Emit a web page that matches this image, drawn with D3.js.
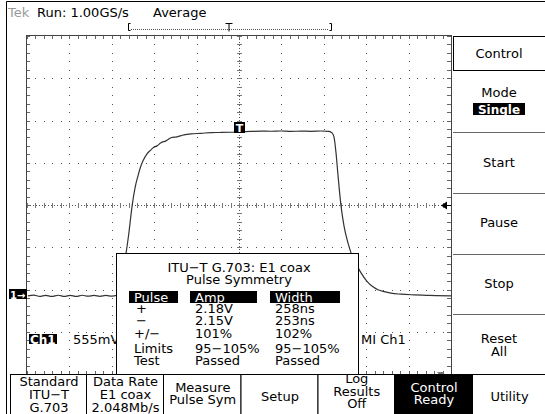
<!DOCTYPE html>
<html>
<head>
<meta charset="utf-8">
<script src="https://cdn.jsdelivr.net/npm/d3@7"></script>
<style>
  body { margin: 0; background: #fff; }
  text { font-family: "DejaVu Sans", sans-serif; fill: #000; }
</style>
</head>
<body>
<div id="chart-area"></div>
<script>
// Waveform: time in ns (trigger at 0), voltage in V (Ch1 ground = 0)
var timeNs = [-249, -242, -235, -228, -221, -213, -206, -199, -192, -185, -178, -171, -164, -157, -150, -144,
  -141.5, -139.1, -136.8, -134.4, -133.2, -129.7, -126.2, -122.6, -119.1, -115.6, -113.2, -108.5, -103.8, -101.4,
  -96.7, -92.0, -86.1, -80.2, -73.1, -64.9, -56.6, -44.8, -33.0, -21.2, -9.4, 0, 14.2, 25.9, 37.7, 49.5, 61.3,
  73.1, 84.9, 96.7, 106.1, 109.7, 112.0, 114.4, 116.7, 120.3, 123.8, 128.5, 132.1, 138.0, 143.9, 150.9, 158.0,
  163.9, 172.2, 179.2, 191.0, 206.4, 220.5, 232.3, 250];
var voltsV = [0, 0.009, -0.007, 0.007, -0.008, 0.008, -0.007, 0.007, -0.008, 0.008, -0.005, 0.005, -0.007, 0.005, -0.004, 0.007,
  0.039, 0.144, 0.315, 0.499, 0.565, 0.841, 1.169, 1.419, 1.576, 1.708, 1.773, 1.866, 1.918, 1.944,
  1.970, 2.010, 2.036, 2.076, 2.089, 2.115, 2.128, 2.135, 2.145, 2.146, 2.149, 2.154, 2.160, 2.164, 2.162, 2.165, 2.160,
  2.164, 2.161, 2.165, 2.160, 2.141, 2.089, 1.879, 1.590, 1.182, 0.920, 0.696, 0.565, 0.420, 0.302, 0.190, 0.118,
  0.079, 0.053, 0.035, 0.022, 0.013, 0.007, 0.003, 0];

// Scope settings
var voltsPerDiv = 0.555, nsPerDiv = 50, groundDiv = -2.15;

// Text shown on screen
var headerTexts = ["Run: 1.00GS/s", "Average"];
var boxTitle = ["ITU\u2212T G.703: E1 coax", "Pulse Symmetry"];
var tableHead = ["Pulse", "Amp", "Width"];
var tableRows = [
  ["+", "2.18V", "258ns"],
  ["\u2212", "2.15V", "253ns"],
  ["+/\u2212", "101%", "102%"],
  ["Limits", "95\u2212105%", "95\u2212105%"],
  ["Test", "Passed", "Passed"]
];
var sideMenu = [["Control"], ["Mode"], ["Start"], ["Pause"], ["Stop"], ["Reset", "All"]];
var softKeys = [
  ["Standard", "ITU\u2212T", "G.703"],
  ["Data Rate", "E1 coax", "2.048Mb/s"],
  ["Measure", "Pulse Sym"],
  ["Setup"],
  ["Log", "Results", "Off"],
  ["Control", "Ready"],
  ["Utility"]
];

var W = 545, H = 414;
var svg = d3.select("#chart-area").append("svg")
    .attr("width", W).attr("height", H);
svg.append("rect").attr("width", W).attr("height", H).attr("fill", "#fff");

// graticule: 10 x 8 divisions
var gx0 = 27, gx1 = 451, gy0 = 36, gy1 = 374;
var xScale = d3.scaleLinear().domain([-5 * nsPerDiv, 5 * nsPerDiv]).range([gx0, gx1]);
var yScale = d3.scaleLinear()
    .domain([(-4 - groundDiv) * voltsPerDiv, (4 - groundDiv) * voltsPerDiv])
    .range([gy1, gy0]);

var xMinor = d3.range(0, 51).map(function(i) { return xScale.domain()[0] + i * nsPerDiv / 5; });
var yMinor = d3.range(0, 41).map(function(i) { return yScale.domain()[0] + i * voltsPerDiv / 5; });
var xMajor = xMinor.filter(function(d, i) { return i % 5 == 0 && i > 0 && i < 50 && i != 25; });
var yMajor = yMinor.filter(function(d, i) { return i % 5 == 0 && i > 0 && i < 40 && i != 20; });
var xMid = xMinor[25], yMid = yMinor[20];

var grid = svg.append("g").attr("class", "grid");

// dotted major lines
xMajor.forEach(function(t) {
  grid.selectAll(null).data(yMinor).enter().append("rect")
      .attr("x", Math.round(xScale(t))).attr("y", function(v) { return Math.round(yScale(v)); })
      .attr("width", 1).attr("height", 1).attr("fill", "#555");
});
yMajor.forEach(function(v) {
  grid.selectAll(null).data(xMinor).enter().append("rect")
      .attr("x", function(t) { return Math.round(xScale(t)); }).attr("y", Math.round(yScale(v)))
      .attr("width", 1).attr("height", 1).attr("fill", "#555");
});

// centre cross with minor ticks
grid.append("line")
    .attr("x1", gx0).attr("x2", gx1)
    .attr("y1", Math.round(yScale(yMid)) + 0.5).attr("y2", Math.round(yScale(yMid)) + 0.5)
    .attr("stroke", "#555").attr("stroke-dasharray", "1,2");
grid.append("line")
    .attr("y1", gy0).attr("y2", gy1)
    .attr("x1", Math.round(xScale(xMid)) + 0.5).attr("x2", Math.round(xScale(xMid)) + 0.5)
    .attr("stroke", "#555").attr("stroke-dasharray", "1,2");
grid.selectAll(null).data(xMinor).enter().append("line")
    .attr("x1", function(t) { return Math.round(xScale(t)) + 0.5; })
    .attr("x2", function(t) { return Math.round(xScale(t)) + 0.5; })
    .attr("y1", Math.round(yScale(yMid)) - 2).attr("y2", Math.round(yScale(yMid)) + 3)
    .attr("stroke", "#777");
grid.selectAll(null).data(yMinor).enter().append("line")
    .attr("y1", function(v) { return Math.round(yScale(v)) + 0.5; })
    .attr("y2", function(v) { return Math.round(yScale(v)) + 0.5; })
    .attr("x1", Math.round(xScale(xMid)) - 2).attr("x2", Math.round(xScale(xMid)) + 3)
    .attr("stroke", "#777");

// edge ticks
grid.selectAll(null).data(xMinor).enter().append("line")
    .attr("x1", function(t) { return Math.round(xScale(t)) + 0.5; })
    .attr("x2", function(t) { return Math.round(xScale(t)) + 0.5; })
    .attr("y1", gy0).attr("y2", gy0 + 3).attr("stroke", "#666");
grid.selectAll(null).data(xMinor).enter().append("line")
    .attr("x1", function(t) { return Math.round(xScale(t)) + 0.5; })
    .attr("x2", function(t) { return Math.round(xScale(t)) + 0.5; })
    .attr("y1", gy1 - 3).attr("y2", gy1).attr("stroke", "#666");
grid.selectAll(null).data(yMinor).enter().append("line")
    .attr("y1", function(v) { return Math.round(yScale(v)) + 0.5; })
    .attr("y2", function(v) { return Math.round(yScale(v)) + 0.5; })
    .attr("x1", gx0).attr("x2", gx0 + 3).attr("stroke", "#666");
grid.selectAll(null).data(yMinor).enter().append("line")
    .attr("y1", function(v) { return Math.round(yScale(v)) + 0.5; })
    .attr("y2", function(v) { return Math.round(yScale(v)) + 0.5; })
    .attr("x1", gx1 - 4).attr("x2", gx1).attr("stroke", "#666");

grid.append("rect")
    .attr("x", gx0 - 0.5).attr("y", gy0 - 0.5)
    .attr("width", gx1 - gx0 + 1).attr("height", gy1 - gy0 + 1)
    .attr("fill", "none").attr("stroke", "#444");

// waveform
var wave = timeNs.map(function(t, i) { return [t, voltsV[i]]; });
var line = d3.line()
    .x(function(d) { return xScale(d[0]); })
    .y(function(d) { return yScale(d[1]); })
    .curve(d3.curveMonotoneX);
svg.append("path").datum(wave)
    .attr("d", line)
    .attr("fill", "none").attr("stroke", "#333").attr("stroke-width", 1.2);

// trigger "T" marker on trace
var tx = Math.round(xScale(0)), ty = Math.round(yScale(voltsV[timeNs.indexOf(0)]));
svg.append("rect").attr("x", tx - 5).attr("y", ty - 10).attr("width", 11).attr("height", 11).attr("fill", "#000");
svg.append("text").attr("x", tx + 0.5).attr("y", ty - 0.5).attr("text-anchor", "middle")
    .style("font-size", "11px").style("font-weight", "bold").style("fill", "#fff").text("T");

// ground marker "1->"
var gy = Math.round(yScale(0));
svg.append("rect").attr("x", 9).attr("y", gy - 7).attr("width", 18).attr("height", 10).attr("fill", "#000");
svg.append("text").attr("x", 10).attr("y", gy + 2.5).style("font-size", "10px").style("font-weight", "bold")
    .style("fill", "#fff").text("1\u2192");

// trigger level arrow (right edge)
var ay = Math.round(yScale(yMid)) + 0.5;
svg.append("path").attr("d", "M441," + ay + "l6,-4v8z").attr("fill", "#000");
svg.append("line").attr("x1", 446).attr("x2", 451).attr("y1", ay).attr("y2", ay).attr("stroke", "#000");
svg.append("path").attr("d", "M437,372l7,0l-3,5z").attr("fill", "#777");

// channel readout
svg.append("rect").attr("x", 29).attr("y", 334).attr("width", 28).attr("height", 10).attr("fill", "#000");
svg.append("text").attr("x", 30).attr("y", 343.5).style("font-size", "12px").style("font-weight", "bold")
    .style("fill", "#fff").text("Ch1");
svg.append("text").attr("x", 73).attr("y", 343.5).style("font-size", "13px").text("555mV");
svg.append("text").attr("x", 361).attr("y", 343.5).style("font-size", "13px").text("MI  Ch1");

// measurement box
var box = svg.append("g");
box.append("rect").attr("x", 116.5).attr("y", 253.5).attr("width", 242).attr("height", 121)
    .attr("fill", "#fff").attr("stroke", "#000");
box.selectAll(null).data(boxTitle).enter().append("text")
    .attr("x", 239).attr("y", function(d, i) { return 271.5 + i * 12; })
    .attr("text-anchor", "middle").style("font-size", "13px").text(function(d) { return d; });

var colX = [134, 195, 275];
var headBox = [[129, 49], [190, 67], [270, 70]];
tableHead.forEach(function(h, i) {
  box.append("rect").attr("x", headBox[i][0]).attr("y", 291).attr("width", headBox[i][1]).attr("height", 12)
      .attr("fill", "#000");
  box.append("text").attr("x", colX[i]).attr("y", 302).style("font-size", "13px").style("fill", "#fff").text(h);
});
var rowY = [313, 325, 338, 352.5, 365];
tableRows.forEach(function(r, j) {
  r.forEach(function(c, i) {
    box.append("text").attr("x", colX[i] + (i == 0 && j < 2 ? 2 : 0)).attr("y", rowY[j])
        .style("font-size", "13px").text(c);
  });
});

// top header
svg.append("text").attr("x", 8).attr("y", 17).style("font-size", "13px").style("fill", "#999").text("Tek");
svg.append("text").attr("x", 37).attr("y", 17).style("font-size", "13px").text(headerTexts[0]);
svg.append("text").attr("x", 153).attr("y", 17).style("font-size", "13px").text(headerTexts[1]);
// record window bracket
svg.append("path").attr("d", "M130.5,23.5h-2v7h2M329.5,23.5h2v7h-2").attr("fill", "none").attr("stroke", "#000");
svg.append("line").attr("x1", 131).attr("x2", 329).attr("y1", 29.5).attr("y2", 29.5)
    .attr("stroke", "#555").attr("stroke-dasharray", "1,1");
svg.append("path").attr("d", "M225.5,23.5h7M229,23.5v8").attr("fill", "none").attr("stroke", "#000");

// frame
svg.append("path").attr("d", "M6.5," + H + "V1.5H" + W).attr("fill", "none").attr("stroke", "#000");

// side menu
var side = svg.append("g");
side.append("rect").attr("x", 453.5).attr("y", 36.5).attr("width", 92).attr("height", 34)
    .attr("fill", "none").attr("stroke", "#000");
[132.5, 193.5, 254.5, 314.5].forEach(function(y) {
  side.append("line").attr("x1", 453).attr("x2", W).attr("y1", y).attr("y2", y).attr("stroke", "#666");
});
var sideY = [[57.5], [97], [167], [227], [288], [343, 356]];
sideMenu.forEach(function(m, i) {
  m.forEach(function(s, k) {
    side.append("text").attr("x", 499).attr("y", sideY[i][k]).attr("text-anchor", "middle")
        .style("font-size", "13px").text(s);
  });
});
side.append("rect").attr("x", 473).attr("y", 103).attr("width", 52).attr("height", 12).attr("fill", "#000");
side.append("text").attr("x", 499).attr("y", 113.5).attr("text-anchor", "middle")
    .style("font-size", "12px").style("font-weight", "bold").style("fill", "#fff").text("Single");

// soft keys
var keyX = [10, 86, 163, 240.5, 317.5, 394, 472, W];
var keyY = [[386, 398.5, 411.5], [386, 398.5, 411.5], [391.5, 403.5], [400.5], [383, 395.5, 408], [391.5, 403.5], [400.5]];
softKeys.forEach(function(k, i) {
  var x0 = keyX[i], x1 = keyX[i + 1], dark = (i == 5);
  svg.append("rect").attr("x", x0 + 0.5).attr("y", 374.5).attr("width", x1 - x0).attr("height", 45)
      .attr("fill", dark ? "#000" : "#fff").attr("stroke", "#000");
  k.forEach(function(s, j) {
    svg.append("text").attr("x", (x0 + x1) / 2 + 1).attr("y", keyY[i][j]).attr("text-anchor", "middle")
        .style("font-size", "13px").style("fill", dark ? "#fff" : "#000").text(s);
  });
});
</script>
</body>
</html>
